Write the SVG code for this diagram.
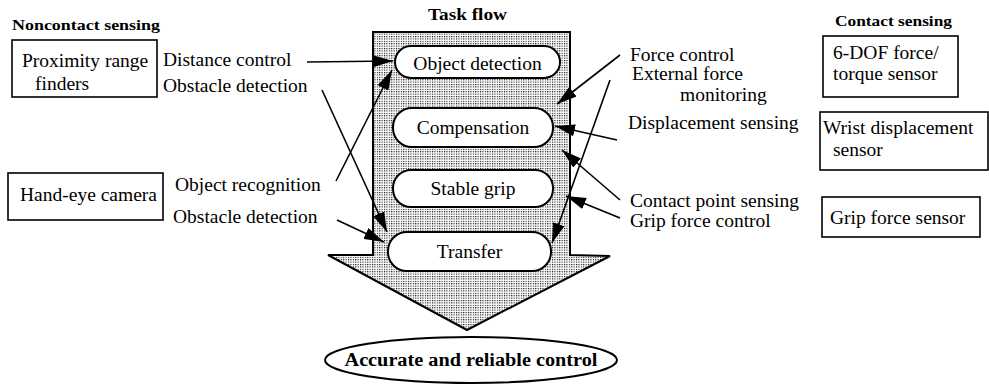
<svg xmlns="http://www.w3.org/2000/svg" width="989" height="385" viewBox="0 0 989 385">
<style>
text{font-family:"Liberation Serif","Times New Roman",serif;fill:#000}
.t{font-size:19.5px}
.h{font-size:15px;font-weight:bold}
.box{fill:#fff;stroke:#000;stroke-width:1.6}
.pill{fill:#fff;stroke:#000;stroke-width:2}
.con{stroke:#000;stroke-width:1.6;fill:none;marker-end:url(#ah)}
</style>
<defs>
<pattern id="dots" width="2.4" height="2.4" patternUnits="userSpaceOnUse">
<rect width="2.4" height="2.4" fill="#fff"/>
<rect width="1.1" height="1.1" fill="#000"/>
</pattern>
<marker id="ah" markerWidth="20" markerHeight="12" refX="20" refY="6" orient="auto" markerUnits="userSpaceOnUse">
<path d="M0,0 L20,6 L0,12 z" fill="#000"/>
</marker>
</defs>
<rect width="989" height="385" fill="#fff"/>

<g id="headers">
<text class="h" x="12" y="30" textLength="148" lengthAdjust="spacingAndGlyphs">Noncontact sensing</text>
<text class="h" x="428" y="20" style="font-size:17px" textLength="79" lengthAdjust="spacingAndGlyphs">Task flow</text>
<text class="h" x="835" y="26" textLength="117" lengthAdjust="spacingAndGlyphs">Contact sensing</text>
</g>

<g id="flow-arrow">
<polygon points="373,32 570,32 570,255 610,256 467,330 328,255 373,255" fill="url(#dots)" stroke="#000" stroke-width="2" stroke-linejoin="miter"/>
</g>

<g id="object-detection">
<rect class="pill" x="395" y="46" width="165" height="32" rx="16"/>
<text class="t" x="477.5" y="70" text-anchor="middle">Object detection</text>
</g>
<g id="compensation">
<rect class="pill" x="393" y="108" width="160" height="39" rx="19"/>
<text class="t" x="473" y="134" text-anchor="middle">Compensation</text>
</g>
<g id="stable-grip">
<rect class="pill" x="393" y="170" width="160" height="37" rx="18"/>
<text class="t" x="473" y="195" text-anchor="middle">Stable grip</text>
</g>
<g id="transfer">
<rect class="pill" x="388" y="232" width="163" height="39" rx="19"/>
<text class="t" x="469.5" y="258" text-anchor="middle">Transfer</text>
</g>
<g id="result">
<ellipse cx="471" cy="360" rx="146" ry="23" fill="#fff" stroke="#000" stroke-width="2"/>
<text x="471" y="366" text-anchor="middle" style="font-size:18px;font-weight:bold" textLength="253" lengthAdjust="spacingAndGlyphs">Accurate and reliable control</text>
</g>

<g id="proximity">
<rect class="box" x="12" y="40" width="145" height="57"/>
<text class="t" x="22" y="67">Proximity range</text>
<text class="t" x="35" y="90">finders</text>
</g>
<g id="hand-eye">
<rect class="box" x="8" y="173" width="155" height="47"/>
<text class="t" x="20" y="201">Hand-eye camera</text>
</g>
<g id="six-dof">
<rect class="box" x="823" y="36" width="135" height="61"/>
<text class="t" x="833" y="59">6-DOF force/</text>
<text class="t" x="833" y="80">torque sensor</text>
</g>
<g id="wrist">
<rect class="box" x="820" y="112" width="168" height="58"/>
<text class="t" x="823" y="134">Wrist  displacement</text>
<text class="t" x="833" y="156">sensor</text>
</g>
<g id="grip-sensor">
<rect class="box" x="822" y="197" width="158" height="40"/>
<text class="t" x="830" y="224">Grip force sensor</text>
</g>

<g id="labels">
<text class="t" x="163" y="66">Distance control</text>
<text class="t" x="163" y="92">Obstacle detection</text>
<text class="t" x="175" y="191">Object recognition</text>
<text class="t" x="173" y="223">Obstacle detection</text>
<text class="t" x="630" y="61">Force control</text>
<text class="t" x="632" y="80">External force</text>
<text class="t" x="680" y="101">monitoring</text>
<text class="t" x="628" y="129">Displacement sensing</text>
<text class="t" x="630" y="207">Contact point sensing</text>
<text class="t" x="630" y="227">Grip force control</text>
</g>

<g id="connectors">
<line class="con" x1="307" y1="62" x2="393" y2="61"/>
<line class="con" x1="322" y1="90" x2="387" y2="232"/>
<line class="con" x1="336" y1="181" x2="392" y2="70"/>
<line class="con" x1="337" y1="220" x2="384" y2="242"/>
<line class="con" x1="620" y1="55" x2="557" y2="104"/>
<line class="con" x1="610" y1="80" x2="552" y2="243"/>
<line class="con" x1="617" y1="140" x2="555" y2="126"/>
<line class="con" x1="620" y1="200" x2="562" y2="150"/>
<line class="con" x1="620" y1="218" x2="566" y2="196"/>
</g>
</svg>
